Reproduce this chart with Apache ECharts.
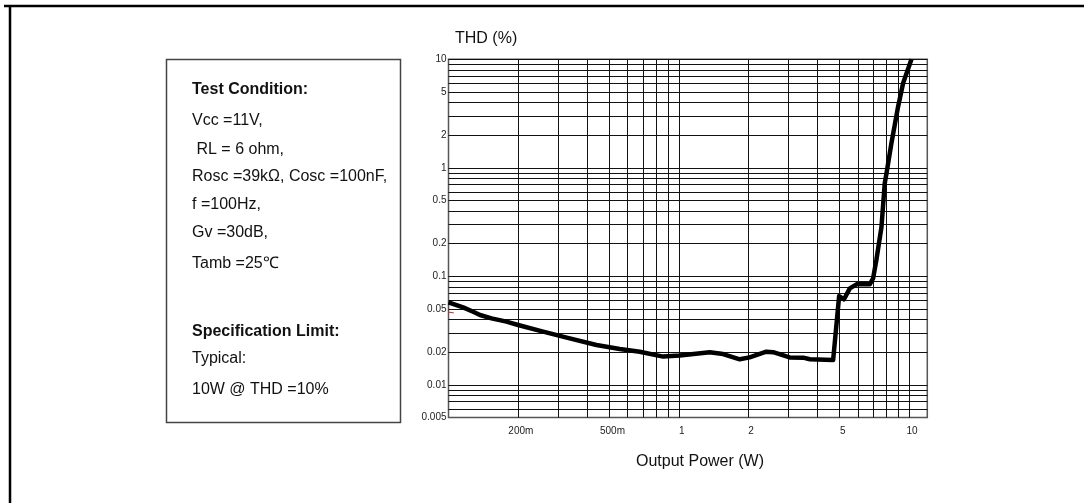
<!DOCTYPE html>
<html><head><meta charset="utf-8">
<script src="https://cdn.jsdelivr.net/npm/echarts@6/dist/echarts.min.js"></script>
<style>html,body{margin:0;padding:0;background:#fff}#c{width:1084px;height:503px}</style>
</head><body><div id="c"></div>
<script>
// ---------- data ----------
const powerW = [0.100, 0.1157, 0.128, 0.137, 0.1537, 0.1786, 0.1846, 0.2005, 0.2576, 0.336, 0.439, 0.554, 0.677, 0.855, 1.01, 1.363, 1.557, 1.84, 2.03, 2.40, 2.57, 3.03, 3.47, 3.71, 4.68, 4.76, 4.97, 5.22, 5.53, 5.91, 6.75, 6.98, 7.21, 7.59, 7.84, 7.98, 8.38, 8.96, 9.42, 10.24];
const thdPct = [0.0576, 0.0518, 0.0472, 0.0440, 0.0410, 0.0382, 0.0374, 0.0356, 0.0309, 0.0268, 0.0233, 0.0214, 0.0202, 0.0182, 0.0186, 0.0200, 0.0192, 0.0172, 0.0179, 0.0202, 0.0200, 0.0179, 0.0178, 0.0172, 0.0169, 0.0167, 0.0658, 0.0614, 0.0775, 0.0844, 0.0844, 0.0958, 0.141, 0.286, 0.72, 0.89, 1.68, 3.66, 6.01, 10.0];
// small red stray stroke near the 0.05 label
const strayX = [0.100, 0.1055];
const strayY = [0.0468, 0.0460];

const xLabelValues = [0.2, 0.5, 1, 2, 5, 10];
const xLabelTexts  = ['200m', '500m', '1', '2', '5', '10'];
const yLabelValues = [0.005, 0.01, 0.02, 0.05, 0.1, 0.2, 0.5, 1, 2, 5, 10];
const yLabelTexts  = ['0.005', '0.01', '0.02', '0.05', '0.1', '0.2', '0.5', '1', '2', '5', '10'];
const xGridValues = [0.2,0.3,0.4,0.5,0.6,0.7,0.8,0.9,1,2,3,4,5,6,7,8,9,10];
const yGridValues = [0.006,0.007,0.008,0.009,0.01,0.02,0.03,0.04,0.05,0.06,0.07,0.08,0.09,0.1,0.2,0.3,0.4,0.5,0.6,0.7,0.8,0.9,1,2,3,4,5,6,7,8,9,10];
const xRange = [0.1, 12];
const yRange = [0.005, 10];

const yAxisTitle = 'THD (%)';
const xAxisTitle = 'Output Power (W)';
const boxLines = ['Test Condition:', 'Vcc =11V,', ' RL = 6 ohm,', 'Rosc =39k\u03A9, Cosc =100nF,', 'f =100Hz,', 'Gv =30dB,', 'Tamb =25\u2103', 'Specification Limit:', 'Typical:', '10W @ THD =10%'];
const boxBold = [true, false, false, false, false, false, false, true, false, false];

// ---------- layout ----------
const FONT = "'Liberation Sans', Arial, sans-serif";
const boxLineY = [90, 120.7, 149.3, 176.7, 205, 232.7, 263.3, 331.7, 358.3, 389.3];

function fmt(list, texts) {
  return function (v) {
    for (let i = 0; i < list.length; i++) if (Math.abs(v - list[i]) / list[i] < 1e-6) return texts[i];
    return '';
  };
}

const chart = echarts.init(document.getElementById('c'), null, {renderer: 'canvas'});

const graphics = [
  {type: 'line', shape: {x1: 4, y1: 6, x2: 1084, y2: 6}, style: {stroke: '#000', lineWidth: 2.5}, z: 100},
  {type: 'line', shape: {x1: 10, y1: 5, x2: 10, y2: 503}, style: {stroke: '#000', lineWidth: 2.5}, z: 100},
  {type: 'rect', shape: {x: 166.5, y: 59.5, width: 234, height: 363}, style: {fill: 'none', stroke: '#444', lineWidth: 1.5}},
  {type: 'text', left: 455, top: 31, style: {text: yAxisTitle, font: '16px ' + FONT, fill: '#111'}},
  {type: 'text', x: 700, y: 461.7, style: {text: xAxisTitle, font: '16px ' + FONT, fill: '#111', align: 'center', verticalAlign: 'middle'}}
];
boxLines.forEach(function (t, i) {
  graphics.push({type: 'text', x: 192, y: boxLineY[i], style: {text: t, font: (boxBold[i] ? 'bold ' : '') + '16px ' + FONT, fill: '#111', verticalAlign: 'middle'}});
});

chart.setOption({
  animation: false,
  backgroundColor: '#fff',
  grid: {left: 448.5, top: 59.3, width: 478.8, height: 358.2, show: true, borderColor: '#555', borderWidth: 1.5, backgroundColor: 'transparent'},
  xAxis: {
    type: 'log', logBase: 10, min: xRange[0], max: xRange[1],
    axisLine: {show: false},
    axisTick: {show: false, customValues: xGridValues},
    splitLine: {show: true, lineStyle: {color: '#111', width: 1}},
    axisLabel: {customValues: xLabelValues, formatter: fmt(xLabelValues, xLabelTexts), fontSize: 10, fontFamily: FONT, color: '#222', margin: 9, padding: [0, 0, 0, 6]}
  },
  yAxis: {
    type: 'log', logBase: 10, min: yRange[0], max: yRange[1],
    axisLine: {show: false},
    axisTick: {show: false, customValues: yGridValues},
    splitLine: {show: true, lineStyle: {color: '#111', width: 1}},
    axisLabel: {customValues: yLabelValues, formatter: fmt(yLabelValues, yLabelTexts), fontSize: 10, fontFamily: FONT, color: '#222', margin: 2}
  },
  series: [
    {type: 'line', data: powerW.map((p, i) => [p, thdPct[i]]), symbol: 'none', lineStyle: {color: '#000', width: 4.5, join: 'round'}, z: 5},
    {type: 'line', data: strayX.map((p, i) => [p, strayY[i]]), symbol: 'none', lineStyle: {color: '#e02020', width: 1}, z: 6}
  ],
  graphic: graphics
});
</script>
</body></html>
